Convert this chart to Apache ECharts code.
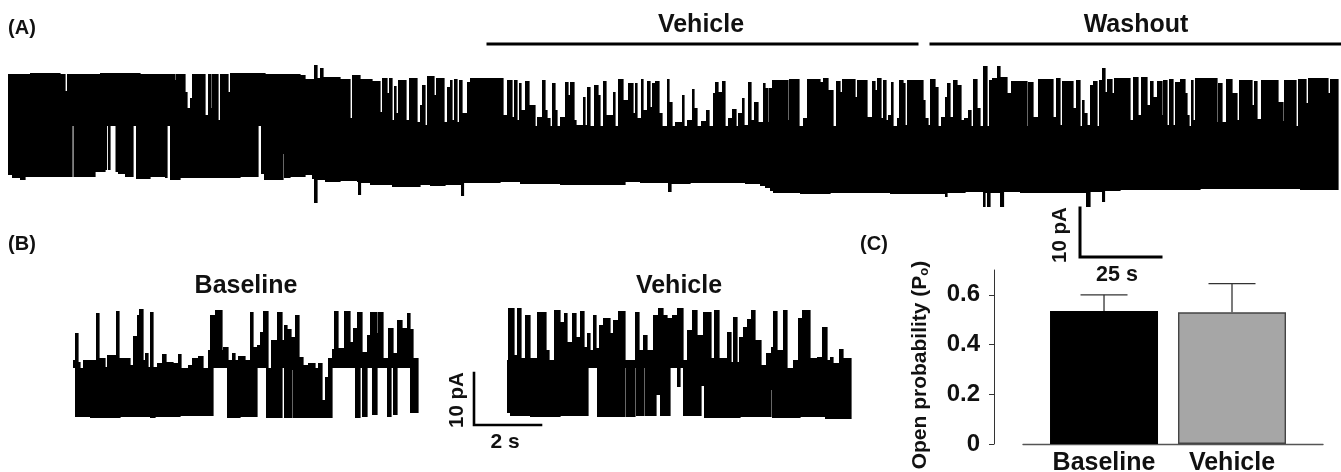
<!DOCTYPE html>
<html><head><meta charset="utf-8">
<style>html,body{margin:0;padding:0;background:#fff}#c{width:1341px;height:472px;filter:blur(0.45px)}</style>
<script src="https://cdn.jsdelivr.net/npm/echarts@6/dist/echarts.min.js"></script>
</head><body><div id="c"></div>
<script>
// Trace data: [sample, level] steps; each level holds until the next sample.
// 49 level units = 10 pA in trace A.
const traceATop = [[8,136],[30,137],[60,136],[65,119],[67,136],[100,137],[140,136],[175,130],[176,136],[183,136],[185,118],[187,102],[190,112],[192,136],[205,95],[208,136],[211,102],[212,136],[218,90],[220,136],[228,118],[230,137],[265,136],[300,135],[305,131],[314,145],[317,132],[320,142],[323,133],[340,131],[350,92],[352,135],[360,131],[372,129],[380,98],[382,132],[387,117],[389,132],[392,90],[394,124],[396,97],[398,130],[406,90],[409,132],[417,88],[420,105],[422,125],[425,85],[427,134],[434,115],[436,132],[444,88],[447,123],
[450,130],[452,90],[454,131],[457,88],[459,130],[462,97],[467,128],[470,132],[503,95],[507,130],[512,93],[514,130],[517,90],[519,127],[521,100],[525,129],[529,105],[535,83],[537,93],[542,130],[545,100],[547,92],[550,83],[552,127],[555,100],[557,82],[560,93],[565,128],[568,115],[570,128],[574,90],[576,85],[583,113],[585,85],[587,123],[590,83],[594,125],[598,115],[600,83],[603,129],[606,95],[613,118],[615,83],[618,131],[623,110],[628,127],[633,97],[635,127],[637,92],[641,131],[643,100],[647,129],[650,103],[652,127],[655,129],[659,97],[662,82],[667,131],[669,108],[672,82],[675,88],[682,115],[684,82],[687,90],[692,121],[694,102],[697,82],[701,89],[706,100],[709,83],[713,117],[715,128],[718,118],[722,129],[725,83],[728,92],[732,101],[736,82],[738,97],[742,112],[744,85],[748,128],[751,90],[754,108],[758,88],[763,127],[765,122],[768,88],[769,122],[772,130],[788,90],[789,131],[799,81],[803,92],[807,131],[820,128],[823,132],[828,120],[833,84],[836,129],[840,118],[842,131],[855,113],[857,130],[867,93],[872,129],[875,120],[877,132],[881,92],[883,130],[886,90],[888,95],[891,128],[893,80],[897,92],
[899,130],[903,127],[905,85],[907,130],[923,110],[925,92],[928,85],[930,131],[935,123],[938,83],[941,93],[945,113],[947,127],[950,93],[953,130],[957,125],[961,90],[964,92],[968,100],[971,83],[973,131],[977,102],[980,83],[983,144],[987,82],[989,130],[992,132],[997,144],[1000,133],[1007,117],[1011,129],[1027,84],[1028,128],[1033,93],[1038,131],[1053,93],[1056,132],[1060,85],[1062,129],[1073,102],[1076,130],[1080,82],[1082,110],[1084,97],[1087,85],[1090,125],[1093,129],[1097,82],[1099,130],[1102,142],[1105,118],[1107,131],[1112,117],[1114,132],[1130,90],[1133,133],[1138,95],[1141,133],[1147,105],[1150,129],[1153,113],[1157,129],[1162,95],[1163,130],[1167,85],[1169,131],[1173,85],[1175,128],[1180,131],[1185,117],[1187,95],[1189,83],[1191,130],[1193,90],[1195,132],[1217,88],[1218,127],[1222,88],[1226,131],[1232,117],[1237,90],[1239,130],[1252,105],[1254,129],[1257,91],[1261,130],[1278,108],[1283,89],[1284,130],[1296,83],[1298,131],[1306,107],[1308,132],[1328,117],[1330,131]];
const traceALow = [[8,35],[12,32],[20,30],[25,33],[50,33],[72,84],[73.5,33],[95,38],[105,40],[106.5,84],[108,40],[110,84],[115.5,38],[118,36],[125,33],[133,84],[136,31],[150,33],[165,32],[167,84],[170,30],[180,32],[220,32],[240,33],[258,84],[261,36],[264,30],[283,56],[284,32],[290,33],[305,35],[312,31],[314,7],[317,30],[325,28],[340,29],[357,28],[358,15],[360.5,27],[370,25],[392,23],[420,25],[430,24],[445,25],[461,14],[463.5,27],[500,28],[520,26],[560,25],[610,25],[625,28],[640,27],[668,18],[671,26],[690,27],[720,27],[745,26],[760,24],[765,22],[770,19],[773,17],[800,16],[830,17],[890,16],[945,13],[947,17],[965,18],[983,3],[985,17],[987,3],[990,17],[1000,3],[1003.5,18],[1020,17],[1048,17],[1086,3],[1090,18],[1102,8],[1104.5,19],[1120,20],[1160,20],[1200,21],[1250,21],[1300,20]];
const traceAEnd = 1338;

const baselineTop = [[73,70],[75,97],[78,68],[80,62],[83,70],[96,117],[99,72],[105,63],[107,75],[116,119],[119,72],[130,65],[133,94],[137,115],[139,121],[143,70],[145,77],[148,63],[150,118],[153,63],[157,67],[162,76],[166,68],[173,67],[178,76],[181,62],[185,62],[188,65],[192,72],[198,74],[203,62],[208,80],[210,115],[215,120],[222,80],[223,83],[228,70],[232,77],[235,70],[238,74],[245,70],[250,118],[253,83],[257,85],[260,98],[263,119],[268,62],[271,90],[277,118],[282,90],[284,105],[287,101],[291,93],[295,115],[299,73],[303,65],[308,67],[315,62],[318,67],[322,62],[328,72],[332,81],[334,119],[338,82],[344,119],[350,88],[353,102],[357,118],[362,78],[367,95],[370,118],[377,97],[378,118],[383,72],[388,102],[393,77],[397,110],[402,102],[407,117],[410,101],[413,72]];
const baselineLow = [[73,62],[75,13],[90,12],[120,13],[150,12],[155,13],[180,14],[213,62],[227,12],[240,13],[257,62],[266,12],[282,62],[284,12],[292,60],[293,12],[322,12,30],[325,12,53],[328,12],[332,62],[355,12],[360,62],[362,13],[367,62],[372,15],[377,62],[387,13],[391,62],[393,15],[397,62],[410,17]];
const baselineEnd = 418;

const vehicleTop = [[507,70],[508,122],[514,75],[517,122],[521,72],[525,115],[530,72],[537,118],[546,80],[549,70],[554,120],[560,108],[564,117],[567,88],[572,117],[576,93],[580,119],[584,83],[587,97],[590,80],[593,115],[596,82],[599,105],[603,112],[610,97],[613,110],[618,119],[625,70],[635,118],[639,80],[643,95],[647,80],[653,115],[658,122],[663,115],[667,112],[672,115],[677,122],[683,70],[687,100],[692,120],[697,95],[703,118],[711,72],[714,120],[719,72],[727,98],[731,68],[733,113],[737,68],[739,93],[743,103],[747,111],[751,120],[755,90],[761,65],[766,77],[771,83],[773,119],[777,80],[783,120],[787,62],[793,70],[798,112],[802,120],[810,72],[817,73],[822,103],[827,70],[830,73],[833,67],[839,81],[843,72]];
const vehicleLow = [[507,17],[510,14],[530,13],[560,14],[588,62],[597,13],[625,62],[626,13],[635,62],[636,14],[644,62],[645,14],[656,35],[660,14],[670,62],[677,43],[680,62],[683,14],[701,44],[704,12],[740,13],[771,40],[772,12],[800,13],[825,11]];
const vehicleEnd = 851;

// Scale bars and treatment bars, in the units of their trace axes
const scaleBarA = [[1080,2],[1080,-47],[1161,-47]];
const scaleBarB = [[474,57],[474,5],[541,5]];
const vehicleSpan = [[488,166],[917,166]];
const washoutSpan = [[931,166],[1340,166]];

// Panel C
const conditions = ['Baseline','Vehicle'];
const meanPo = [0.535,0.53];
const upperPo = [0.6,0.645];
const barColors = ['#000000','#a6a6a6'];
const poTicks = [0,0.2,0.4,0.6];

const FONT = '"Liberation Sans", Arial, sans-serif';
const chart = echarts.init(document.getElementById('c'), null, {renderer:'canvas'});

function stepData(steps, end, mid){
  return steps.map((s,i)=>[s[0], i+1<steps.length?steps[i+1][0]:end, s[1], s.length>2?s[2]:mid]);
}
function stepSeries(steps,end,mid,ax){
  return {type:'custom',xAxisIndex:ax,yAxisIndex:ax,silent:true,animation:false,clip:false,
    data:stepData(steps,end,mid),
    renderItem(p,api){
      const a=api.value(2), b=api.value(3);
      if(a===b) return null;
      const p0=api.coord([api.value(0),Math.max(a,b)]), p1=api.coord([api.value(1),Math.min(a,b)]);
      return {type:'rect',shape:{x:p0[0],y:p0[1],width:p1[0]-p0[0]+0.6,height:p1[1]-p0[1]},style:{fill:'#000'}};
    }};
}
function topSteps(steps,mid){return steps.map(s=>[s[0],Math.max(s[1],mid)]);}
function pathSeries(d,ax,w){
  return {type:'line',xAxisIndex:ax,yAxisIndex:ax,data:d,symbol:'none',silent:true,animation:false,clip:false,
    lineStyle:{color:'#000',width:w,cap:'square',join:'miter'}};
}
function label(text,x,y,size,rot){
  return {type:'text',x,y,rotation:rot||0,silent:true,
    style:{text,fill:'#111',font:'bold '+size+'px '+FONT,align:'center',verticalAlign:'middle'}};
}
const hidden={show:false};
const MIDA=84, MIDB=62;
chart.setOption({
  animation:false,backgroundColor:'#fff',
  grid:[
    {left:8,top:40,width:1333,height:220,outerBoundsMode:'none'},
    {left:73,top:300,width:345,height:130,outerBoundsMode:'none'},
    {left:470,top:300,width:381,height:130,outerBoundsMode:'none'},
    {left:1023,top:270,width:300,height:174,outerBoundsMode:'none'}
  ],
  xAxis:[
    {type:'value',gridIndex:0,min:8,max:1341,...hidden},
    {type:'value',gridIndex:1,min:73,max:418,...hidden},
    {type:'value',gridIndex:2,min:470,max:851,...hidden},
    {type:'value',gridIndex:3,min:0.367,max:2.711,splitLine:{show:false},
      axisLine:{show:true,onZero:false,lineStyle:{color:'#555',width:1.4}},
      axisTick:{show:false},
      axisLabel:{customValues:[1,2],margin:7,color:'#111',fontFamily:FONT,fontWeight:'bold',fontSize:25,
        hideOverlap:false,formatter:v=>conditions[Math.round(v)-1]||''}}
  ],
  yAxis:[
    {type:'value',gridIndex:0,min:-50,max:170,...hidden},
    {type:'value',gridIndex:1,min:0,max:130,...hidden},
    {type:'value',gridIndex:2,min:0,max:130,...hidden},
    {type:'value',gridIndex:3,min:0,max:0.7,offset:29,splitLine:{show:false},
      axisLine:{show:true,lineStyle:{color:'#333',width:1}},
      axisTick:{show:true,length:5,customValues:poTicks,lineStyle:{color:'#333',width:1}},
      axisLabel:{customValues:poTicks,margin:14,color:'#111',fontFamily:FONT,fontWeight:'bold',fontSize:24,
        formatter:v=>v===0?'0':v.toFixed(1)}}
  ],
  series:[
    stepSeries(topSteps(traceATop,MIDA),traceAEnd,MIDA,0),
    stepSeries(traceALow,traceAEnd,MIDA,0),
    stepSeries(topSteps(baselineTop,MIDB),baselineEnd,MIDB,1),
    stepSeries(baselineLow,baselineEnd,MIDB,1),
    stepSeries(topSteps(vehicleTop,MIDB),vehicleEnd,MIDB,2),
    stepSeries(vehicleLow,vehicleEnd,MIDB,2),
    pathSeries(vehicleSpan,0,3),
    pathSeries(washoutSpan,0,3),
    pathSeries(scaleBarA,0,3),
    pathSeries(scaleBarB,2,2.6),
    {type:'bar',xAxisIndex:3,yAxisIndex:3,barWidth:108,animation:false,silent:true,z:3,
      data:conditions.map((c,i)=>({value:[i+1,meanPo[i]],itemStyle:{color:barColors[i],borderColor:i?'#444':'#000',borderWidth:i?1.4:0}}))},
    {type:'custom',xAxisIndex:3,yAxisIndex:3,silent:true,animation:false,z:2,
      data:conditions.map((c,i)=>[i+1,meanPo[i],upperPo[i]]),
      renderItem(p,api){
        const a=api.coord([api.value(0),api.value(1)]), b=api.coord([api.value(0),api.value(2)]);
        const st={stroke:'#333',lineWidth:1.3,fill:null};
        return {type:'group',children:[
          {type:'line',shape:{x1:a[0],y1:a[1],x2:b[0],y2:b[1]},style:st},
          {type:'line',shape:{x1:b[0]-23.5,y1:b[1],x2:b[0]+23.5,y2:b[1]},style:st}
        ]};
      }}
  ],
  graphic:[
    label('(A)',22,28,20),label('(B)',22,244,20),label('(C)',874,244,20),
    label('Vehicle',701,25,25),label('Washout',1136,25,25),
    label('Baseline',246,286,25),label('Vehicle',679,286,25),
    label('10 pA',1060,235,20.5,Math.PI/2),label('25 s',1117,275,21.5),
    label('10 pA',457,400,20.5,Math.PI/2),label('2 s',505,442,21),
    {type:'text',x:920,y:365,rotation:Math.PI/2,silent:true,
      style:{text:'Open probability (P{s|o})',fill:'#111',font:'bold 21px '+FONT,align:'center',verticalAlign:'middle',
        rich:{s:{font:'bold 13px '+FONT,fill:'#111',verticalAlign:'bottom',padding:[8,0,0,0]}}}}
  ]
});
</script></body></html>
